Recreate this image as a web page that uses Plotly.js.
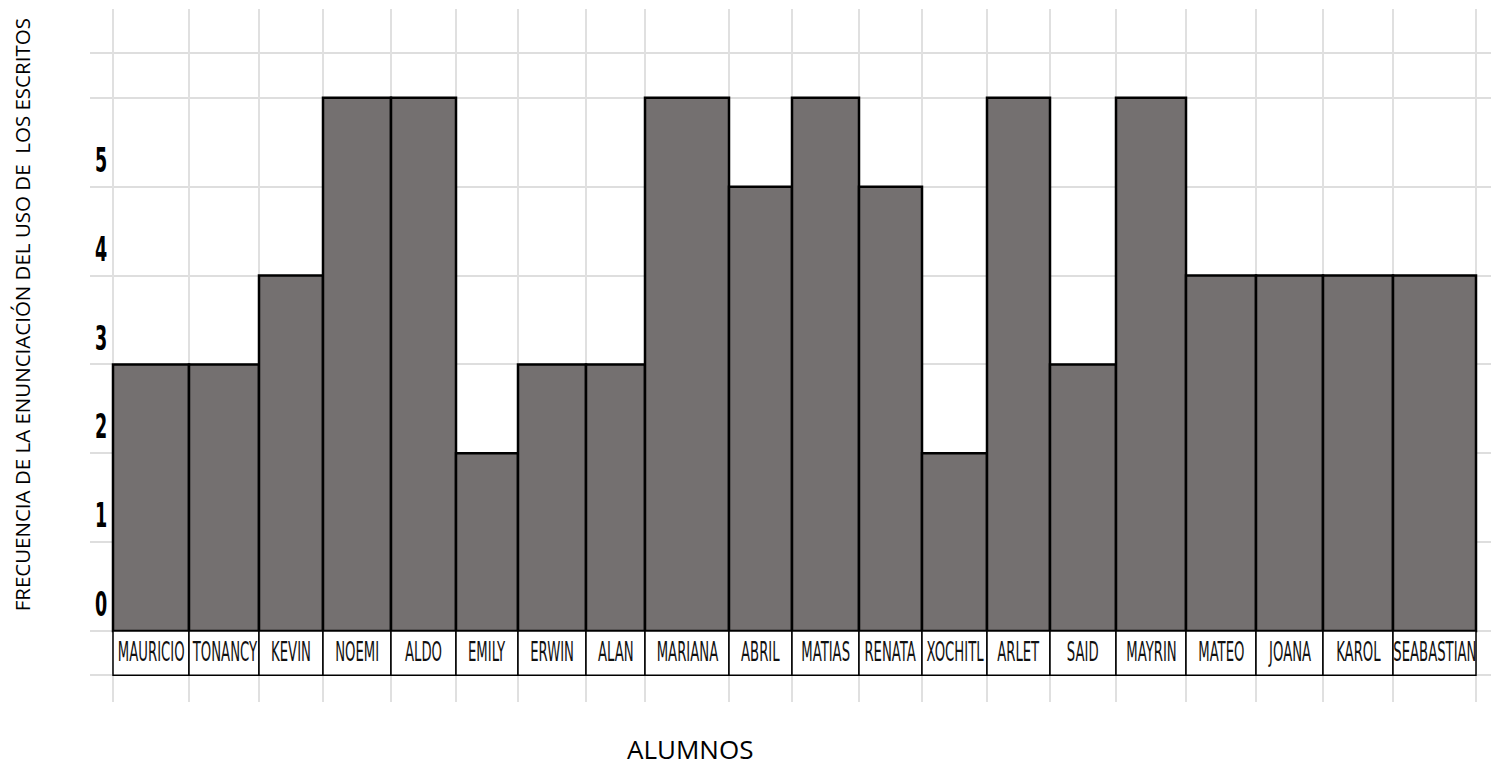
<!DOCTYPE html>
<html>
<head>
<meta charset="utf-8">
<script src="https://cdn.plot.ly/plotly-3.0.1.min.js"></script>
<style>
  html, body { margin: 0; padding: 0; background: #fff; }
  #chart { width: 1494px; height: 768px; }
</style>
</head>
<body>
<div id="chart"></div>
<script>
// ---- data ----
const alumnos = ["MAURICIO","TONANCY","KEVIN","NOEMI","ALDO","EMILY","ERWIN","ALAN","MARIANA","ABRIL",
                 "MATIAS","RENATA","XOCHITL","ARLET","SAID","MAYRIN","MATEO","JOANA","KAROL","SEABASTIAN"];
const frecuencia = [3,3,4,6,6,2,3,3,6,5,6,5,2,6,3,6,4,4,4,4];
const yTickLabels = ["0","1","2","3","4","5"];
const xTitle = "ALUMNOS";
const yTitle = "FRECUENCIA DE LA ENUNCIACIÓN DEL USO DE\u00A0 LOS ESCRITOS";

// ---- layout helpers (column widths as drawn in the reference) ----
const colWidths = [76,70,64,68,65,62,68,59,84,63,67,63,65,63,66,70,70,67,70,83];
const edges = [0];
colWidths.forEach(w => edges.push(edges[edges.length-1] + w));
const centers = colWidths.map((w,i) => edges[i] + w/2);
const total = edges[edges.length-1];

const narrow = '"DejaVu Sans Condensed", "Liberation Sans Narrow", sans-serif';
const titleFont = '"Open Sans", "Noto Sans", sans-serif';

const bars = {
  type: 'bar',
  x: centers,
  y: frecuencia,
  width: colWidths,
  marker: { color: '#747070', line: { color: '#000', width: 2.5 } },
  hoverinfo: 'x+y',
  showlegend: false
};

const labelBoxes = {
  type: 'bar',
  x: centers,
  y: alumnos.map(() => 0.5),
  base: alumnos.map(() => -0.5),
  width: colWidths,
  marker: { color: '#fff', line: { color: '#000', width: 1.5 } },
  hoverinfo: 'skip',
  showlegend: false
};

const annotations = alumnos.map((n,i) => ({
  x: centers[i], y: -0.25, xref: 'x', yref: 'y',
  text: n, showarrow: false,
  font: { family: narrow, size: 15.5, color: '#111' }
}));

annotations.push({
  x: 0.428, y: -0.068, xref: 'paper', yref: 'paper',
  xanchor: 'center', yanchor: 'middle',
  text: xTitle, showarrow: false,
  font: { family: titleFont, size: 26, color: '#000' }
});
annotations.push({
  x: -0.0485, y: 0.558, xref: 'paper', yref: 'paper',
  xanchor: 'center', yanchor: 'middle', textangle: -90,
  text: yTitle, showarrow: false,
  font: { family: titleFont, size: 20.5, color: '#000' }
});

const layout = {
  width: 1494, height: 768,
  margin: { l: 90, r: 3, t: 9, b: 66 },
  paper_bgcolor: '#fff', plot_bgcolor: '#fff',
  barmode: 'overlay',
  bargap: 0,
  xaxis: {
    range: [-23, total + 15],
    tickmode: 'array', tickvals: edges,
    showticklabels: false, ticks: '',
    showgrid: true, gridcolor: '#e0e0e0', gridwidth: 1.5,
    zeroline: false, showline: false, fixedrange: true
  },
  yaxis: {
    range: [-0.8, 7.0],
    tickmode: 'array',
    tickvals: yTickLabels.map((t,i) => i + 0.3),
    ticktext: yTickLabels,
    ticklabelposition: 'inside',
    tickfont: { family: narrow, size: 26, color: '#000', weight: 'bold' },
    ticks: '',
    showgrid: false,
    zeroline: false, showline: false, fixedrange: true,
    minor: {
      tickmode: 'array',
      tickvals: [-0.5,0,1,2,3,4,5,6,6.5],
      showgrid: true, gridcolor: '#dedede', gridwidth: 2, ticks: ''
    }
  },
  annotations: annotations
};

// stretch text vertically to imitate the tall condensed lettering of the reference
function stretch(el, sx, sy) {
  const b = el.getBBox();
  const cx = b.x + b.width / 2, cy = b.y + b.height / 2;
  const prev = el.getAttribute('transform') || '';
  el.setAttribute('transform',
    `${prev} translate(${cx},${cy}) scale(${sx},${sy}) translate(${-cx},${-cy})`);
}

Plotly.newPlot('chart', [bars, labelBoxes], layout, { displayModeBar: false, staticPlot: true })
  .then(gd => {
    const annTexts = gd.querySelectorAll('.annotation-text');
    annTexts.forEach((t, i) => { if (i < alumnos.length) stretch(t, 0.95, 1.7); });
    gd.querySelectorAll('.ytick text').forEach(t => stretch(t, 0.75, 1.3));
  });
</script>
</body>
</html>
